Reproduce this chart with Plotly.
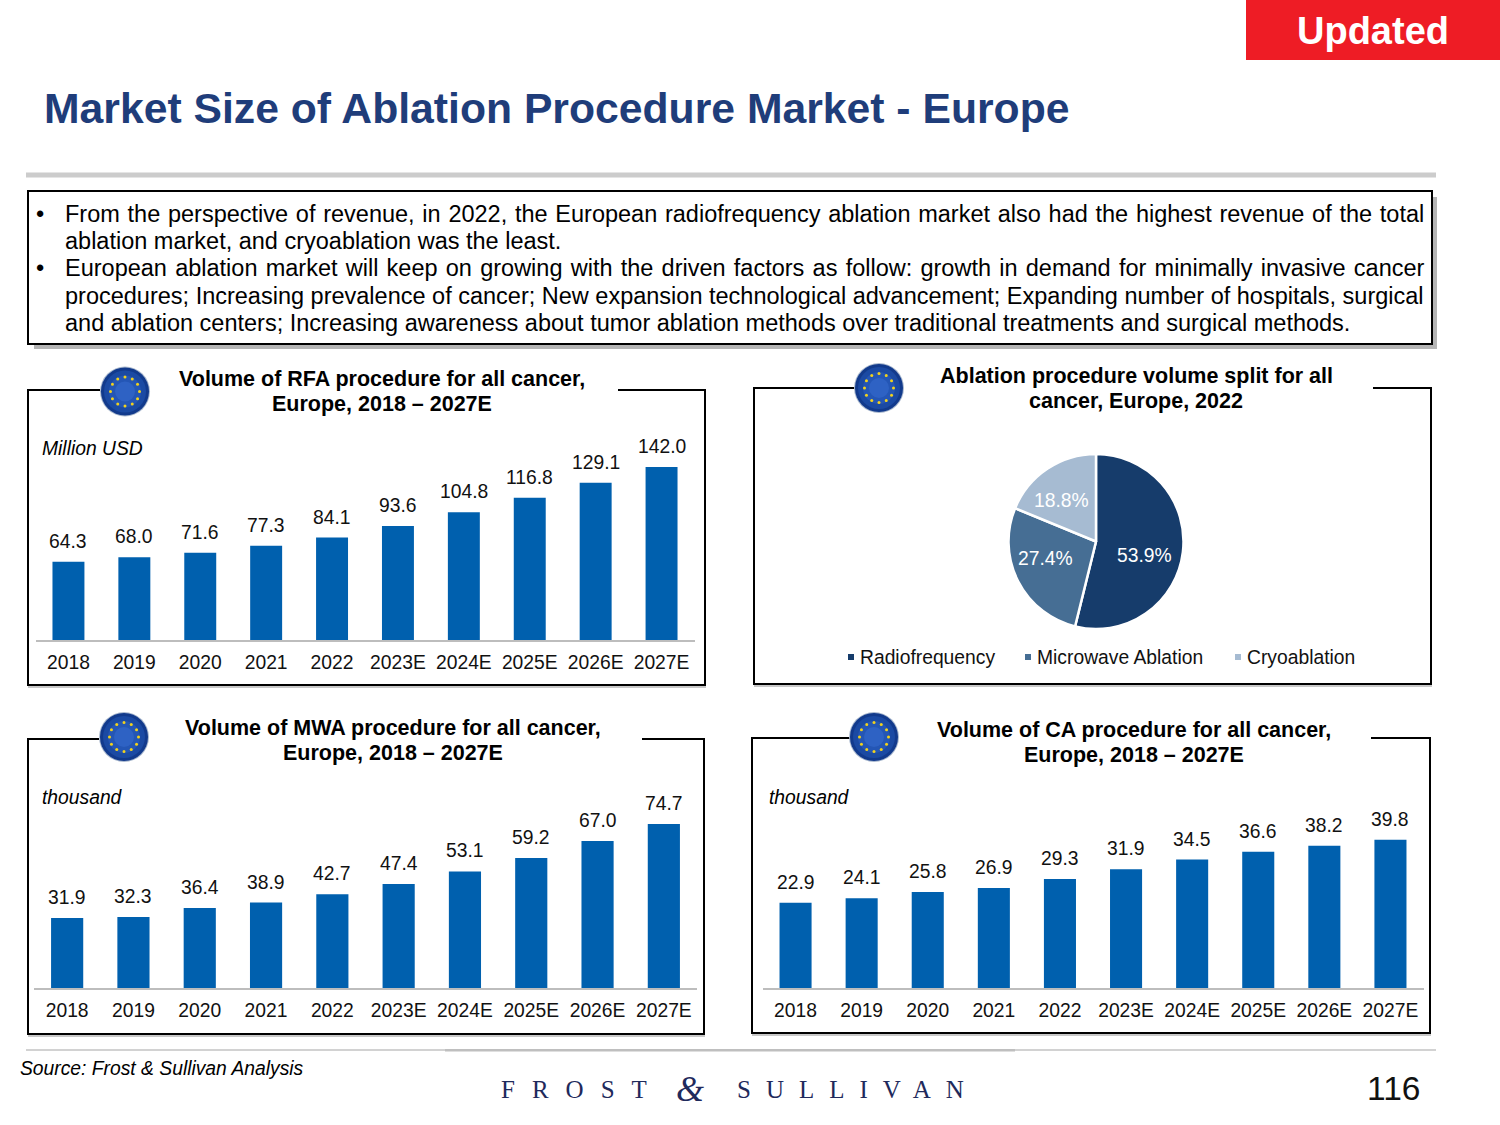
import math

import plotly.graph_objects as go

# ---------------- data ----------------
YEARS = ["2018", "2019", "2020", "2021", "2022", "2023E", "2024E", "2025E", "2026E", "2027E"]
RFA_VALUES = [64.3, 68.0, 71.6, 77.3, 84.1, 93.6, 104.8, 116.8, 129.1, 142.0]
MWA_VALUES = [31.9, 32.3, 36.4, 38.9, 42.7, 47.4, 53.1, 59.2, 67.0, 74.7]
CA_VALUES = [22.9, 24.1, 25.8, 26.9, 29.3, 31.9, 34.5, 36.6, 38.2, 39.8]
SPLIT_LABELS = ["Radiofrequency", "Microwave Ablation", "Cryoablation"]
SPLIT_VALUES = [53.9, 27.4, 18.8]
SPLIT_COLORS = ["#163C6B", "#466E94", "#A6BBD2"]

# bullet, text, extra word spacing (the slide's text is justified)
BULLET_LINES = [
    ("\u2022", "From the perspective of revenue, in 2022, the European radiofrequency ablation market also had the highest revenue of the total", 1.2),
    ("", "ablation market, and cryoablation was the least.", 0.0),
    ("\u2022", "European ablation market will keep on growing with the driven factors as follow: growth in demand for minimally invasive cancer", 1.7),
    ("", "procedures; Increasing prevalence of cancer; New expansion technological advancement; Expanding number of hospitals, surgical", 0.0),
    ("", "and ablation centers; Increasing awareness about tumor ablation methods over traditional treatments and surgical methods.", 0.0),
]

BAR_COLOR = "#0060AE"
FONT = "Liberation Sans"
LABEL_SIZE = 19.3
W, H = 1500, 1125


def px(x):
    return x / W


def py(y):
    return 1 - y / H


fig = go.Figure()
shapes = []
notes = []


def note(x, y, text, size, anchor="left", color="black", font=FONT):
    notes.append(dict(
        x=px(x), y=py(y), xref="paper", yref="paper", text=text, showarrow=False,
        xanchor=anchor, yanchor="middle", align="center" if anchor == "center" else "left",
        font=dict(family=font, size=size, color=color),
    ))


def rect(x0, y0, x1, y1, fill, line=None, width=0):
    shapes.append(dict(
        type="rect", xref="paper", yref="paper",
        x0=px(x0), x1=px(x1), y0=py(y0), y1=py(y1),
        fillcolor=fill, line=dict(color=line or fill, width=width),
    ))


def circle(cx, cy, r, fill):
    shapes.append(dict(
        type="circle", xref="paper", yref="paper",
        x0=px(cx - r), x1=px(cx + r), y0=py(cy - r), y1=py(cy + r),
        fillcolor=fill, line=dict(width=0),
    ))


def eu_flag(cx, cy):
    # ball look: stacked circles instead of a gradient
    for r, c in [(25, "#A9B8CE"), (24, "#123A8C"), (21, "#1B4AA3"), (16, "#2456B5"), (10, "#2E62C4")]:
        circle(cx, cy, r, c)
    for i in range(12):
        a = 2 * math.pi * i / 12
        circle(cx + 14.5 * math.cos(a), cy + 14.5 * math.sin(a), 1.5, "#F2D21B")


def frame(x0, y0, x1, y1, gap0, gap1):
    # panel border, open on top where the flag and the title sit
    path = (f"M {px(gap0)} {py(y0)} L {px(x0)} {py(y0)} L {px(x0)} {py(y1)} "
            f"L {px(x1)} {py(y1)} L {px(x1)} {py(y0)} L {px(gap1)} {py(y0)}")
    shapes.append(dict(type="path", xref="paper", yref="paper", path=path,
                       line=dict(color="black", width=2)))
    rect(x0, y1 + 1, x1 + 1, y1 + 3, "#C8C8C8")


def panel_title(cx, y, line1, line2):
    note(cx, y, f"<b>{line1}</b>", 21.5, "center")
    note(cx, y + 25, f"<b>{line2}</b>", 21.5, "center")


def bar_panel(idx, values, left, right, base, top, y_max):
    suffix = "" if idx == 1 else str(idx)
    fig.add_trace(go.Bar(
        x=YEARS, y=values, xaxis=f"x{suffix}", yaxis=f"y{suffix}",
        marker=dict(color=BAR_COLOR, line=dict(width=0)),
        showlegend=False,
    ))
    # value labels sit higher above the bars than bar text can, so annotate on the axes
    # (on a category axis an annotation's x is the category's index)
    for i, v in enumerate(values):
        notes.append(dict(
            x=i, y=v, xref=f"x{suffix}", yref=f"y{suffix}", text=f"{v:.1f}", showarrow=False,
            yanchor="bottom", yshift=8, font=dict(family=FONT, size=LABEL_SIZE, color="#111111"),
        ))
    fig.update_layout({
        f"xaxis{suffix}": dict(
            domain=[px(left), px(right)], anchor=f"y{suffix}", type="category",
            range=[-0.5, len(YEARS) - 0.5],
            showline=True, linecolor="#BDBDBD", linewidth=2, showgrid=False,
            ticks="outside", ticklen=3.5, tickcolor="rgba(0,0,0,0)",
            tickfont=dict(family=FONT, size=LABEL_SIZE, color="#111111"),
        ),
        f"yaxis{suffix}": dict(
            domain=[py(base), py(top)], anchor=f"x{suffix}", range=[0, y_max],
            visible=False, showgrid=False, zeroline=False,
        ),
    })


# ---------------- header ----------------
rect(1246, 0, 1500, 60, "#EE1C25")
note(1373, 31, "<b>Updated</b>", 38, "center", "white")
note(42, 108, "<b>Market Size of Ablation Procedure Market - Europe</b>", 42.7, "left", "#1F3D7A")
rect(26, 172.5, 1436, 177.5, "#CCCCCC")

# ---------------- text box ----------------
rect(34, 197, 1437, 349, "#B5B5B5")
rect(28, 191, 1432, 344, "white", "black", 2)
for i, (bullet, line, spacing) in enumerate(BULLET_LINES):
    y = 213.5 + i * 27.4
    if bullet:
        note(34, y, bullet, 23.5)
    if spacing:
        line = f'<span style="word-spacing:{spacing}px">{line}</span>'
    note(63, y, line, 23.5)

# ---------------- panels ----------------
frame(28, 390, 705, 685, 100, 618)
frame(754, 388, 1431, 684, 855, 1373)
frame(28, 739, 704, 1034, 99, 642)
frame(752, 738, 1430, 1033, 850, 1371)

for cx, cy in [(125, 391.5), (879, 388), (124, 737), (874, 737)]:
    eu_flag(cx, cy)

panel_title(382, 379, "Volume of RFA procedure for all cancer,", "Europe, 2018 \u2013 2027E")
panel_title(1136, 376, "Ablation procedure volume split for all", "cancer, Europe, 2022")
panel_title(393, 728, "Volume of MWA procedure for all cancer,", "Europe, 2018 \u2013 2027E")
panel_title(1134, 730, "Volume of CA procedure for all cancer,", "Europe, 2018 \u2013 2027E")

note(40, 448, "<i>Million USD</i>", LABEL_SIZE)
note(40, 797, "<i>thousand</i>", LABEL_SIZE)
note(767, 797, "<i>thousand</i>", LABEL_SIZE)

bar_panel(1, RFA_VALUES, 35.5, 694.5, 640, 440, 164.2)
bar_panel(2, MWA_VALUES, 34, 697, 988, 790, 90.2)
bar_panel(3, CA_VALUES, 762.5, 1423.5, 988, 790, 53.2)

# ---------------- pie ----------------
fig.add_trace(go.Pie(
    labels=SPLIT_LABELS, values=SPLIT_VALUES, sort=False, direction="clockwise", rotation=0,
    domain=dict(x=[px(1007), px(1185)], y=[py(629), py(454)]),
    marker=dict(colors=SPLIT_COLORS, line=dict(color="white", width=2.5)),
    textinfo="none", showlegend=False,
))
for v, (x_text, y_text) in zip(SPLIT_VALUES, [(1144, 555), (1045, 558), (1061, 500)]):
    note(x_text, y_text, f"{v:.1f}%", LABEL_SIZE, "center", "white")
for label, color, x_mark in zip(SPLIT_LABELS, SPLIT_COLORS, [851, 1028, 1238]):
    rect(x_mark - 3, 654, x_mark + 3, 660, color)
    note(x_mark + 7, 657, label, LABEL_SIZE, "left", "#111111")

# ---------------- footer ----------------
rect(26, 1049, 1436, 1051, "#D2D2D2")
rect(445, 1049, 1015, 1051.5, "#BFBFBF")
note(18, 1068, "<i>Source: Frost &amp; Sullivan Analysis</i>", LABEL_SIZE)
note(499, 1089, '<span style="letter-spacing:17px">FROST</span>', 25, "left", "#1F2A5C", "Liberation Serif")
note(674, 1089, "<i>&amp;</i>", 36, "left", "#1F2A5C", "Liberation Serif")
note(735, 1089, '<span style="letter-spacing:15px">SULLIVAN</span>', 25, "left", "#1F2A5C", "Liberation Serif")
note(1365, 1088, "116", 33.5, "left", "#111111")

fig.update_layout(
    width=W, height=H, autosize=False,
    margin=dict(l=0, r=0, t=0, b=0),
    paper_bgcolor="white", plot_bgcolor="white",
    bargap=0.515,
    shapes=shapes, annotations=notes,
)

# the page's default body margin would push everything 8px in
fig.write_html(
    "out.html",
    config={"displayModeBar": False},
    post_script="document.body.style.margin='0';document.body.style.overflow='hidden';",
)
